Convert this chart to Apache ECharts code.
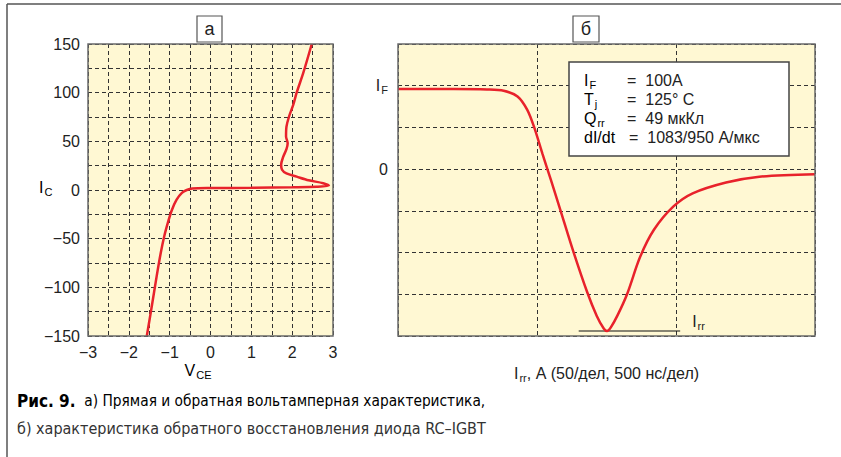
<!DOCTYPE html>
<html>
<head>
<meta charset="utf-8">
<script src="https://cdn.jsdelivr.net/npm/echarts@6/dist/echarts.min.js"></script>
<style>
  html, body { margin: 0; padding: 0; background: #fff; }
  #chart { width: 841px; height: 457px; }
</style>
</head>
<body>
<div id="chart"></div>
<script>
// (а) forward / reverse I–V curve of the RC-IGBT, points in drawing order
const vce = [-1.56, -1.44, -1.32, -1.22, -1.13, -1.04, -0.95, -0.83, -0.70, -0.58, -0.45, 0.0, 1.0, 2.0, 2.6, 2.9,
             2.76, 2.40, 2.11, 1.86, 1.75, 1.73, 1.78, 1.86, 1.89, 1.85, 1.86, 1.92, 2.03, 2.11, 2.27, 2.48];
const ic  = [-150, -120, -89, -65, -47, -33, -21, -10, -3, 0, 1.5, 2, 2.3, 2.8, 3.3, 4.5,
             7, 10, 13.7, 17, 21, 26, 34, 42, 48, 55, 65, 75, 88, 100, 120, 150];

// (б) diode reverse-recovery current: time (ns) and current (A)
const tRec = [0, 200, 320, 380, 430, 465, 490, 520, 550, 585, 630, 680, 715, 740, 752, 765, 790, 825, 870, 920, 990, 1060, 1180, 1300, 1500];
const iRec = [96, 96, 95.5, 94, 87, 71, 50, 18, -13, -50, -98, -147, -176, -191, -194, -190, -175, -149, -106, -73, -45, -29, -16, -9, -6];

// Peak reverse-recovery level marker
const irrT = [650, 1015];
const irrI = [-194, -194];

// Tick labels
const leftXTicks = [-3, -2, -1, 0, 1, 2, 3];
const leftYTicks = [-150, -100, -50, 0, 50, 100, 150];
const rightYLabels = { '100': '{i|I}{s|F}', '0': '0' };

// Test conditions shown in the box
const paramNames  = ['{i|I}{s|F}', '{i|T}{s|j}', '{i|Q}{s|rr}', '{i|dI/dt}'];
const paramValues = ['100A', '125° C', '49 мкКл', '1083/950 А/мкс'];

const FONT = '"Liberation Sans", Arial, sans-serif';
const CAPTION_FONT = '"Liberation Sans Narrow", "DejaVu Sans Condensed", "Liberation Sans", sans-serif';
const RED = '#e8222b';
const GRID_LINE = { show: true, lineStyle: { color: '#333', type: [4, 3], width: 1 } };
const minus = v => (v < 0 ? '\u2212' + Math.abs(v) : String(v));

const subRich = {
  i: { fontSize: 16, fontFamily: FONT, color: '#222' },
  s: { fontSize: 11, fontFamily: FONT, color: '#222', padding: [9, 0, 0, 1] }
};

const L = { left: 88, top: 44, width: 245, height: 292 };
const R = { left: 398, top: 44, width: 417, height: 292 };

const chart = echarts.init(document.getElementById('chart'), null, { renderer: 'svg' });

chart.setOption({
  animation: false,
  backgroundColor: '#fff',
  grid: [
    Object.assign({ show: true, backgroundColor: '#fff8d3', borderWidth: 0 }, L),
    Object.assign({ show: true, backgroundColor: '#fff8d3', borderWidth: 0 }, R)
  ],
  xAxis: [
    {
      gridIndex: 0, type: 'value', min: -3, max: 3, interval: 0.5,
      axisLine: { show: false }, axisTick: { show: false },
      splitLine: GRID_LINE,
      axisLabel: {
        margin: 8, fontSize: 16, fontFamily: FONT, color: '#222',
        formatter: v => (leftXTicks.indexOf(v) >= 0 ? minus(v) : '')
      }
    },
    {
      gridIndex: 1, type: 'value', min: 0, max: 1500, interval: 500,
      axisLine: { show: false }, axisTick: { show: false },
      splitLine: GRID_LINE,
      axisLabel: { show: false },
      name: '{i|I}{s|rr}{t|, А (50/дел, 500 нс/дел)}',
      nameLocation: 'middle', nameGap: 27,
      nameTextStyle: {
        rich: Object.assign({}, subRich, { t: { fontSize: 16, fontFamily: FONT, color: '#222' } })
      }
    }
  ],
  yAxis: [
    {
      gridIndex: 0, type: 'value', min: -150, max: 150, interval: 25,
      axisLine: { show: false }, axisTick: { show: false },
      splitLine: GRID_LINE,
      axisLabel: {
        margin: 8, fontSize: 16, fontFamily: FONT, color: '#222',
        formatter: v => (leftYTicks.indexOf(v) >= 0 ? minus(v) : '')
      }
    },
    {
      gridIndex: 1, type: 'value', min: -200, max: 150, interval: 50,
      axisLine: { show: false }, axisTick: { show: false },
      splitLine: GRID_LINE,
      axisLabel: {
        margin: 10, fontSize: 16, fontFamily: FONT, color: '#222',
        formatter: v => rightYLabels[String(v)] || '',
        rich: subRich
      }
    }
  ],
  series: [
    {
      type: 'line', xAxisIndex: 0, yAxisIndex: 0, smooth: 0.3, showSymbol: false,
      lineStyle: { color: RED, width: 2.5 },
      data: vce.map((v, k) => [v, ic[k]]), z: 5
    },
    {
      type: 'line', xAxisIndex: 1, yAxisIndex: 1, smooth: 0.3, showSymbol: false,
      lineStyle: { color: RED, width: 2.5 },
      data: tRec.map((t, k) => [t, iRec[k]]), z: 5
    },
    {
      type: 'line', xAxisIndex: 1, yAxisIndex: 1, showSymbol: false,
      lineStyle: { color: '#111', width: 1.2 },
      data: irrT.map((t, k) => [t, irrI[k]]), z: 4,
      endLabel: {
        show: true, distance: 0, offset: [12, -9],
        formatter: '{i|I}{s|rr}', rich: subRich
      }
    }
  ],
  graphic: [
    // outer frame (top and left edges)
    { type: 'line', shape: { x1: 7, y1: 4, x2: 841, y2: 4 }, style: { stroke: '#555', lineWidth: 1.5 } },
    { type: 'line', shape: { x1: 7, y1: 4, x2: 7, y2: 457 }, style: { stroke: '#555', lineWidth: 1.5 } },
    // plot borders
    { type: 'rect', z: 20, shape: { x: L.left, y: L.top, width: L.width, height: L.height },
      style: { fill: 'none', stroke: '#6a6a6a', lineWidth: 1.5 } },
    { type: 'rect', z: 20, shape: { x: R.left, y: R.top, width: R.width, height: R.height },
      style: { fill: 'none', stroke: '#6a6a6a', lineWidth: 1.5 } },
    // panel titles
    { type: 'rect', shape: { x: 197, y: 16, width: 25, height: 26 },
      style: { fill: '#fff', stroke: '#555', lineWidth: 1.2 } },
    { type: 'text', style: { x: 209.5, y: 29, text: 'а', font: '18px ' + FONT, fill: '#222',
      textAlign: 'center', textVerticalAlign: 'middle' } },
    { type: 'rect', shape: { x: 573, y: 16, width: 26, height: 26 },
      style: { fill: '#fff', stroke: '#555', lineWidth: 1.2 } },
    { type: 'text', style: { x: 586, y: 29, text: 'б', font: '18px ' + FONT, fill: '#222',
      textAlign: 'center', textVerticalAlign: 'middle' } },
    // axis names of panel (а)
    { type: 'text', style: { x: 39, y: 187, text: '{i|I}{s|C}', rich: subRich,
      textAlign: 'left', textVerticalAlign: 'middle' } },
    { type: 'text', style: { x: 198, y: 370, text: '{i|V}{s|CE}', rich: subRich,
      textAlign: 'center', textVerticalAlign: 'middle' } },
    // parameter box
    { type: 'rect', z: 15, shape: { x: 569, y: 62, width: 220, height: 94 },
      style: { fill: '#fff', stroke: '#444', lineWidth: 1.5 } }
  ].concat(
    paramNames.map((n, k) => ({
      type: 'text', z: 16,
      style: { x: 584, y: 80.5 + k * 19, text: n, rich: subRich, textVerticalAlign: 'middle' }
    })),
    paramValues.map((v, k) => ({
      type: 'text', z: 16,
      style: { x: k === 3 ? 629 : 627, y: 80.5 + k * 19, text: '=  ' + v,
        font: '16px ' + FONT, fill: '#222', textVerticalAlign: 'middle' }
    })),
    [
      // caption
      { type: 'text', style: { x: 17, y: 401, textVerticalAlign: 'middle',
        text: '{b|Рис. 9.}{r|  а) Прямая и обратная вольтамперная характеристика,}',
        rich: {
          b: { fontSize: 17, fontWeight: 'bold', fontFamily: CAPTION_FONT, color: '#231f20' },
          r: { fontSize: 15.3, fontFamily: CAPTION_FONT, color: '#333' }
        } } },
      { type: 'text', style: { x: 17, y: 428, textVerticalAlign: 'middle',
        text: 'б) характеристика обратного восстановления диода RC–IGBT',
        font: '16px ' + CAPTION_FONT, fill: '#333' } }
    ]
  )
});
</script>
</body>
</html>
